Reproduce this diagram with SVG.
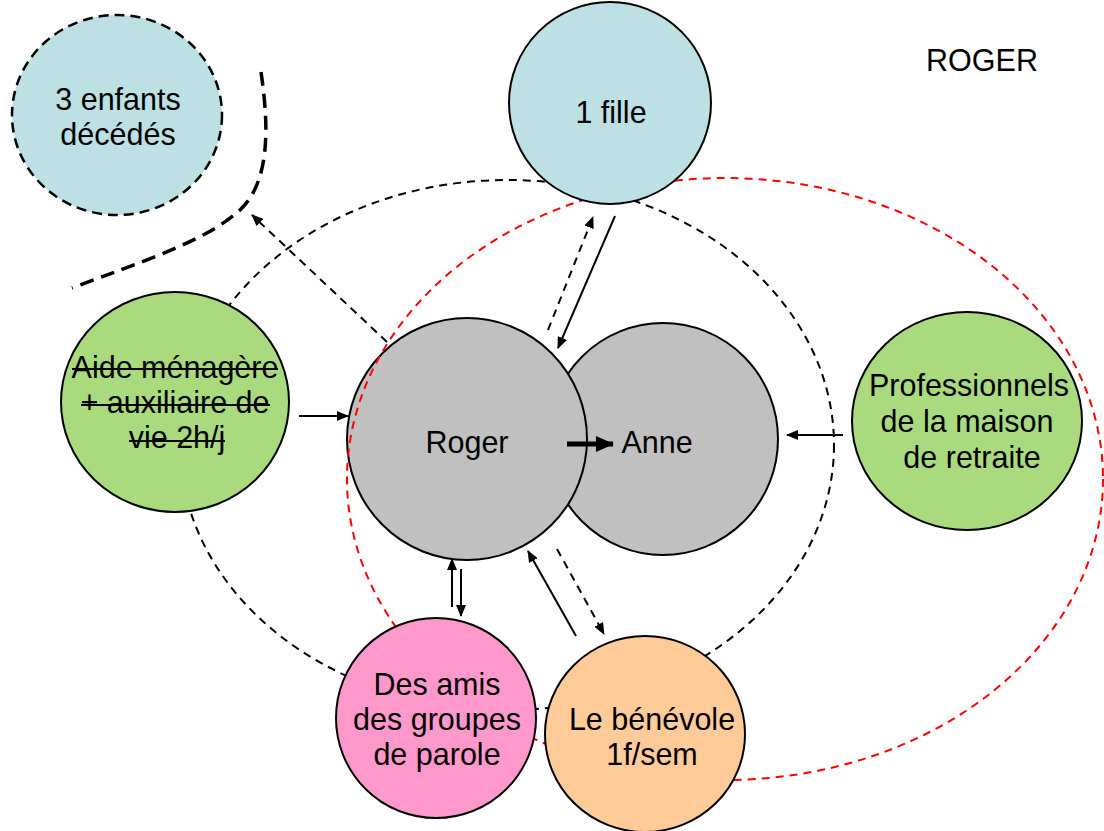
<svg xmlns="http://www.w3.org/2000/svg" width="1104" height="831" viewBox="0 0 1104 831">
  <defs>
    <marker id="head" viewBox="0 0 12 10" refX="11" refY="5" markerWidth="12" markerHeight="10" markerUnits="userSpaceOnUse" orient="auto">
      <path d="M0,0 L12,5 L0,10 Z" fill="#000"/>
    </marker>
    <marker id="headBig" viewBox="0 0 18 16" refX="17" refY="8" markerWidth="18" markerHeight="16" markerUnits="userSpaceOnUse" orient="auto">
      <path d="M0,0 L18,8 L0,16 Z" fill="#000"/>
    </marker>
  </defs>
  <style>
    .node { stroke: #000; stroke-width: 2; }
    .lbl { font-family: "Liberation Sans", Arial, sans-serif; font-size: 30.5px; fill: #000; text-anchor: middle; }
    .ring { fill: none; stroke-width: 2; stroke-dasharray: 8 6; }
    .solid { fill: none; stroke: #000; stroke-width: 2; }
    .dash { fill: none; stroke: #000; stroke-width: 2; stroke-dasharray: 8 6; }
    .strike { stroke: #000; stroke-width: 2; }
  </style>

  <rect width="1104" height="831" fill="#fff"/>

  <!-- couple -->
  <g id="anne">
    <ellipse cx="663" cy="439" rx="115" ry="116" fill="#c0c0c0" class="node"/>
    <text class="lbl" x="657" y="453">Anne</text>
  </g>
  <g id="roger">
    <ellipse cx="467" cy="439" rx="120" ry="121" fill="#c0c0c0" class="node"/>
    <text class="lbl" x="467" y="453">Roger</text>
  </g>

  <!-- circles of relations -->
  <g id="rings">
    <ellipse cx="725" cy="479" rx="378" ry="301" class="ring" stroke="#ff0000"/>
    <ellipse cx="507" cy="445" rx="327" ry="265" class="ring" stroke="#000"/>
    <path d="M261,72 C268,120 272,180 240,210 C205,242 140,262 72,288" fill="none" stroke="#000" stroke-width="3.5" stroke-dasharray="14 8"/>
  </g>

  <g id="enfants">
    <ellipse cx="117" cy="115" rx="105" ry="100" fill="#bce0e4" stroke="#000" stroke-width="2.5" stroke-dasharray="10 6"/>
    <text class="lbl" x="118" y="110">3 enfants</text>
    <text class="lbl" x="118" y="145">décédés</text>
  </g>

  <g id="fille">
    <circle cx="610" cy="103" r="101" fill="#bce0e4" class="node"/>
    <text class="lbl" x="611" y="123">1 fille</text>
  </g>

  <g id="aide">
    <ellipse cx="175" cy="402" rx="114" ry="110" fill="#a9da7e" class="node"/>
    <text class="lbl" x="175" y="378">Aide ménagère</text>
    <text class="lbl" x="175" y="413">+ auxiliaire de</text>
    <text class="lbl" x="177" y="448">vie 2h/j</text>
    <line class="strike" x1="72" y1="369" x2="278" y2="369"/>
    <line class="strike" x1="81" y1="405" x2="270" y2="405"/>
    <line class="strike" x1="129" y1="441" x2="225" y2="441"/>
  </g>

  <g id="professionnels">
    <ellipse cx="967" cy="421" rx="115" ry="109" fill="#a9da7e" class="node"/>
    <text class="lbl" x="969" y="396">Professionnels</text>
    <text class="lbl" x="967" y="432">de la maison</text>
    <text class="lbl" x="972" y="468">de retraite</text>
  </g>

  <g id="amis">
    <ellipse cx="436" cy="718" rx="100" ry="100" fill="#ff99cc" class="node"/>
    <text class="lbl" x="437" y="695">Des amis</text>
    <text class="lbl" x="437" y="730">des groupes</text>
    <text class="lbl" x="437" y="765">de parole</text>
  </g>

  <g id="benevole">
    <ellipse cx="645" cy="734" rx="100" ry="98" fill="#ffcc99" class="node"/>
    <text class="lbl" x="652" y="730">Le bénévole</text>
    <text class="lbl" x="652" y="765">1f/sem</text>
  </g>

  <!-- connectors -->
  <g id="connectors">
    <line class="dash" x1="548" y1="330" x2="593" y2="217" marker-end="url(#head)"/>
    <line class="solid" x1="615" y1="216" x2="558" y2="348" marker-end="url(#head)"/>
    <line class="dash" x1="387" y1="342" x2="252" y2="215" marker-end="url(#head)"/>
    <line class="solid" x1="299" y1="416" x2="348" y2="416" marker-end="url(#head)"/>
    <line fill="none" stroke="#000" stroke-width="5" x1="567" y1="444" x2="613" y2="444" marker-end="url(#headBig)"/>
    <line class="solid" x1="843" y1="435" x2="787" y2="435" marker-end="url(#head)"/>
    <line class="solid" x1="452" y1="607" x2="452" y2="559" marker-end="url(#head)"/>
    <line class="solid" x1="461" y1="569" x2="461" y2="616" marker-end="url(#head)"/>
    <line class="solid" x1="576" y1="636" x2="528" y2="551" marker-end="url(#head)"/>
    <line class="dash" x1="557" y1="549" x2="604" y2="634" marker-end="url(#head)"/>
  </g>

  <text id="title" class="lbl" x="982" y="71">ROGER</text>
</svg>
